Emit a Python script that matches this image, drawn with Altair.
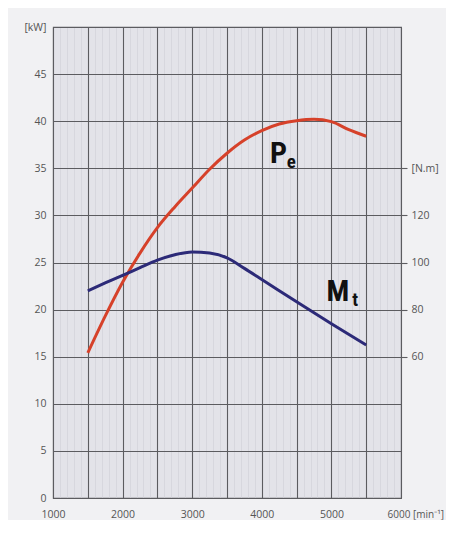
import altair as alt
import pandas as pd

# Effective power Pe [kW] vs engine speed [min^-1]
pe_rpm = [1500, 1750, 2000, 2250, 2500, 2750, 3000, 3250, 3500, 3750, 4000,
          4250, 4500, 4750, 5000, 5250, 5500]
pe_kw = [15.4, 19.3, 22.9, 26.0, 28.7, 30.9, 32.9, 34.9, 36.6, 38.0, 39.0,
         39.7, 40.05, 40.2, 39.95, 39.1, 38.4]

# Torque Mt [N.m] vs engine speed
mt_rpm = [1500, 1750, 2000, 2250, 2500, 2750, 3000, 3250, 3500, 3750, 4000,
          4500, 5000, 5500]
mt_nm = [88, 91.3, 94.5, 97.8, 101, 103.3, 104.5, 104, 102, 97.5, 92.8,
         83.3, 74, 65]

# Curve labels (main letter + subscript)
big_text = ["P", "M"]
big_rpm = [4118, 4930]
big_kw = [35.6, 20.9]
sub_text = ["e", "t"]
sub_rpm = [4360, 5300]
sub_kw = [35.0, 20.4]

kw_ticks = list(range(0, 51, 5))
nm_ticks = [60, 80, 100, 120, 140]
x_major = list(range(1000, 6001, 500))
x_minor = [v for v in range(1000, 6001, 100) if v % 500]

RED = "#d6412a"
BLUE = "#2c2a78"
GRID = "#5c5c60"
MINOR = "#cfcfd6"
LABEL = "#555555"
AXFONT = "Open Sans"
TFONT = "Liberation Sans Narrow, Roboto Condensed, DejaVu Sans Condensed, sans-serif"

x_scale = alt.Scale(domain=[1000, 6000], nice=False, zero=False)
kw_scale = alt.Scale(domain=[0, 50], nice=False)
nm_scale = alt.Scale(domain=[0, 200], nice=False)

pe_df = pd.DataFrame({"rpm": pe_rpm, "kw": pe_kw})
mt_df = pd.DataFrame({"rpm": mt_rpm, "nm": mt_nm})
big_df = pd.DataFrame({"t": big_text, "rpm": big_rpm, "kw": big_kw})
sub_df = pd.DataFrame({"t": sub_text, "rpm": sub_rpm, "kw": sub_kw})

last = "datum.value == 6000"

pe = alt.Chart(pe_df).mark_line(color=RED, strokeWidth=3, interpolate="monotone").encode(
    x=alt.X("rpm:Q", scale=x_scale, axis=alt.Axis(
        values=x_major, format="d", title=None, grid=True, gridColor=GRID,
        gridWidth=1.1, ticks=False, domain=False, labelPadding=11,
        labelFont=AXFONT, labelColor=LABEL,
        labelFontSize={"condition": {"test": last, "value": 10}, "value": 10.5},
        labelExpr="datum.value % 1000 == 0 ? (datum.value == 6000 ? '6000 [min⁻¹]' : '' + datum.value) : ''",
        labelAlign={"condition": {"test": last, "value": "left"}, "value": "center"},
        labelOffset={"condition": {"test": last, "value": -14}, "value": 0},
    )),
    y=alt.Y("kw:Q", scale=kw_scale, axis=alt.Axis(
        values=kw_ticks, title=None, grid=True, gridColor=GRID, gridWidth=1.1,
        ticks=False, domain=False, labelPadding=7, orient="left",
        labelFont=AXFONT, labelFontSize=10.5, labelColor=LABEL,
        labelExpr="datum.value == 50 ? '[kW]' : datum.label",
    )),
)

mt = alt.Chart(mt_df).mark_line(color=BLUE, strokeWidth=3, interpolate="monotone").encode(
    x=alt.X("rpm:Q", scale=x_scale, axis=alt.Axis(
        values=x_minor, orient="top", title=None, grid=True, gridColor=MINOR,
        gridWidth=0.6, labels=False, ticks=False, domain=False,
    )),
    y=alt.Y("nm:Q", scale=nm_scale, axis=alt.Axis(
        values=nm_ticks, orient="right", title=None, grid=False, domain=False,
        ticks=True, tickSize=6, tickColor=GRID, tickWidth=1.1, labelPadding=4,
        labelFont=AXFONT, labelFontSize=10.5, labelColor=LABEL,
        labelExpr="datum.value == 140 ? '[N.m]' : datum.label",
    )),
)

big = alt.Chart(big_df).mark_text(
    font=TFONT, fontWeight="bold", fontSize=30, align="left",
    baseline="alphabetic", color="#111111",
).encode(
    x=alt.X("rpm:Q", scale=x_scale, axis=None),
    y=alt.Y("kw:Q", scale=kw_scale, axis=None),
    text="t:N",
)

sub = alt.Chart(sub_df).mark_text(
    font=TFONT, fontWeight="bold", fontSize=19, align="left",
    baseline="alphabetic", color="#111111",
).encode(
    x=alt.X("rpm:Q", scale=x_scale, axis=None),
    y=alt.Y("kw:Q", scale=kw_scale, axis=None),
    text="t:N",
)

chart = alt.layer(pe, mt, big, sub).resolve_scale(
    y="independent"
).resolve_axis(
    x="independent", y="independent"
).properties(
    width=348, height=471, autosize="none",
    padding={"left": 45, "top": 19, "right": 45, "bottom": 22},
    background="#f1f1f3",
).configure_view(
    fill="#e3e3e9", stroke=GRID, strokeWidth=1.1,
)

chart.save("out.html", embed_options={"renderer": "svg", "actions": False})
